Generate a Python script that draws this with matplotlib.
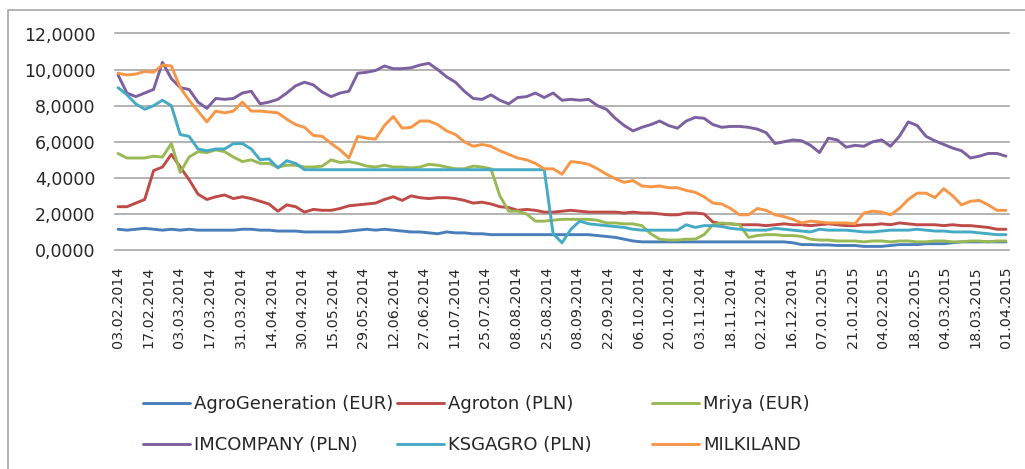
import numpy as np
import matplotlib
matplotlib.use('Agg')
import matplotlib.pyplot as plt
from matplotlib.patches import Rectangle

# ---------------- data ----------------
date_labels = ["03.02.2014", "17.02.2014", "03.03.2014", "17.03.2014", "31.03.2014",
               "14.04.2014", "30.04.2014", "15.05.2014", "29.05.2014", "12.06.2014",
               "27.06.2014", "11.07.2014", "25.07.2014", "08.08.2014", "25.08.2014",
               "08.09.2014", "22.09.2014", "06.10.2014", "20.10.2014", "03.11.2014",
               "18.11.2014", "02.12.2014", "16.12.2014", "07.01.2015", "21.01.2015",
               "04.02.2015", "18.02.2015", "04.03.2015", "18.03.2015", "01.04.2015"]

# trading-day position of each sampled observation (labels every 10 trading days)
obs_day = np.linspace(0, 290, 101)

agrogeneration = [1.15, 1.1, 1.15, 1.2, 1.15, 1.1, 1.15, 1.1, 1.15, 1.1,
                  1.1, 1.1, 1.1, 1.1, 1.15, 1.15, 1.1, 1.1, 1.05, 1.05,
                  1.05, 1.0, 1.0, 1.0, 1.0, 1.0, 1.05, 1.1, 1.15, 1.1,
                  1.15, 1.1, 1.05, 1.0, 1.0, 0.95, 0.9, 1.0, 0.95, 0.95,
                  0.9, 0.9, 0.85, 0.85, 0.85, 0.85, 0.85, 0.85, 0.85, 0.85,
                  0.85, 0.85, 0.85, 0.85, 0.8, 0.75, 0.7, 0.6, 0.5, 0.45,
                  0.45, 0.45, 0.45, 0.45, 0.45, 0.45, 0.45, 0.45, 0.45, 0.45,
                  0.45, 0.45, 0.45, 0.45, 0.45, 0.45, 0.4, 0.3, 0.3, 0.28,
                  0.28, 0.25, 0.25, 0.25, 0.2, 0.2, 0.2, 0.25, 0.3, 0.3,
                  0.3, 0.35, 0.35, 0.35, 0.4, 0.45, 0.45, 0.45, 0.45, 0.45,
                  0.45]

agroton = [2.4, 2.4, 2.6, 2.8, 4.4, 4.6, 5.3, 4.6, 3.9, 3.1,
           2.8, 2.95, 3.05, 2.85, 2.95, 2.85, 2.7, 2.55, 2.15, 2.5,
           2.4, 2.1, 2.25, 2.2, 2.2, 2.3, 2.45, 2.5, 2.55, 2.6,
           2.8, 2.95, 2.75, 3.0, 2.9, 2.85, 2.9, 2.9, 2.85, 2.75,
           2.6, 2.65, 2.55, 2.4, 2.35, 2.2, 2.25, 2.2, 2.1, 2.1,
           2.15, 2.2, 2.15, 2.1, 2.1, 2.1, 2.1, 2.05, 2.1, 2.05,
           2.05, 2.0, 1.95, 1.95, 2.05, 2.05, 2.0, 1.55, 1.45, 1.45,
           1.4, 1.4, 1.4, 1.35, 1.4, 1.45, 1.4, 1.4, 1.35, 1.4,
           1.45, 1.4, 1.35, 1.35, 1.4, 1.4, 1.45, 1.4, 1.5, 1.45,
           1.4, 1.4, 1.4, 1.35, 1.4, 1.35, 1.35, 1.3, 1.25, 1.15,
           1.15]

mriya = [5.35, 5.1, 5.1, 5.1, 5.2, 5.15, 5.9, 4.3, 5.15, 5.45,
         5.4, 5.55, 5.45, 5.15, 4.9, 5.0, 4.8, 4.8, 4.6, 4.7,
         4.7, 4.6, 4.6, 4.65, 5.0, 4.85, 4.9, 4.8, 4.65, 4.6,
         4.7, 4.6, 4.6, 4.55, 4.6, 4.75, 4.7, 4.6, 4.5, 4.5,
         4.65, 4.6, 4.5, 3.0, 2.15, 2.15, 2.0, 1.6, 1.6, 1.65,
         1.7, 1.7, 1.7, 1.7, 1.65, 1.5, 1.5, 1.45, 1.45, 1.35,
         0.9, 0.6, 0.55, 0.55, 0.6, 0.6, 0.85, 1.4, 1.5, 1.45,
         1.4, 0.7, 0.8, 0.85, 0.85, 0.8, 0.8, 0.75, 0.6, 0.55,
         0.55, 0.5, 0.5, 0.5, 0.45, 0.5, 0.5, 0.45, 0.5, 0.5,
         0.45, 0.45, 0.5, 0.5, 0.45, 0.45, 0.5, 0.5, 0.45, 0.5,
         0.5]

imcompany = [9.7, 8.7, 8.5, 8.7, 8.9, 10.4, 9.5, 9.0, 8.9, 8.2,
             7.85, 8.4, 8.35, 8.4, 8.7, 8.8, 8.1, 8.2, 8.35, 8.7,
             9.1, 9.3, 9.15, 8.75, 8.5, 8.7, 8.8, 9.8, 9.85, 9.95,
             10.2, 10.05, 10.05, 10.1, 10.25, 10.35, 10.0, 9.6, 9.3, 8.8,
             8.4, 8.35, 8.6, 8.3, 8.1, 8.45, 8.5, 8.7, 8.45, 8.7,
             8.3, 8.35, 8.3, 8.35, 8.0, 7.8, 7.3, 6.9, 6.6, 6.8,
             6.95, 7.15, 6.9, 6.75, 7.15, 7.35, 7.3, 6.95, 6.8, 6.85,
             6.85, 6.8, 6.7, 6.5, 5.9, 6.0, 6.1, 6.05, 5.8, 5.4,
             6.2, 6.1, 5.7, 5.8, 5.75, 6.0, 6.1, 5.75, 6.3, 7.1,
             6.9, 6.3, 6.05, 5.85, 5.65, 5.5, 5.1, 5.2, 5.35, 5.35,
             5.2]

ksgagro = [9.0, 8.6, 8.1, 7.8, 8.0, 8.3, 8.0, 6.4, 6.3, 5.6,
           5.5, 5.6, 5.6, 5.9, 5.9, 5.6, 5.0, 5.05, 4.55, 4.95,
           4.8, 4.45, 4.45, 4.45, 4.45, 4.45, 4.45, 4.45, 4.45, 4.45,
           4.45, 4.45, 4.45, 4.45, 4.45, 4.45, 4.45, 4.45, 4.45, 4.45,
           4.45, 4.45, 4.45, 4.45, 4.45, 4.45, 4.45, 4.45, 4.45, 0.9,
           0.4, 1.15, 1.6, 1.45, 1.4, 1.35, 1.3, 1.25, 1.15, 1.1,
           1.1, 1.1, 1.1, 1.1, 1.4, 1.25, 1.35, 1.35, 1.3, 1.2,
           1.15, 1.1, 1.1, 1.1, 1.2, 1.15, 1.1, 1.05, 1.0, 1.15,
           1.1, 1.1, 1.1, 1.05, 1.0, 1.0, 1.05, 1.1, 1.1, 1.1,
           1.15, 1.1, 1.05, 1.05, 1.0, 1.0, 1.0, 0.95, 0.9, 0.85,
           0.85]

milkiland = [9.8, 9.7, 9.75, 9.9, 9.85, 10.25, 10.2, 9.0, 8.3, 7.7,
             7.1, 7.7, 7.6, 7.7, 8.2, 7.7, 7.7, 7.65, 7.6, 7.25,
             6.95, 6.8, 6.35, 6.3, 5.9, 5.55, 5.1, 6.3, 6.2, 6.15,
             6.9, 7.4, 6.75, 6.8, 7.15, 7.15, 6.95, 6.6, 6.4, 6.0,
             5.75, 5.85, 5.75, 5.5, 5.3, 5.1, 5.0, 4.8, 4.5, 4.5,
             4.2, 4.9, 4.85, 4.75, 4.5, 4.2, 3.95, 3.75, 3.85, 3.55,
             3.5, 3.55, 3.45, 3.45, 3.3, 3.2, 2.95, 2.6, 2.55, 2.3,
             1.95, 1.95, 2.3, 2.2, 1.95, 1.85, 1.7, 1.5, 1.6, 1.55,
             1.5, 1.5, 1.5, 1.45, 2.05, 2.15, 2.1, 1.95, 2.3, 2.8,
             3.15, 3.15, 2.9, 3.4, 3.0, 2.5, 2.7, 2.75, 2.5, 2.2,
             2.2]

series_names = ["AgroGeneration (EUR)", "Agroton (PLN)", "Mriya (EUR)",
                "IMCOMPANY (PLN)", "KSGAGRO (PLN)", "MILKILAND"]
series_values = [agrogeneration, agroton, mriya, imcompany, ksgagro, milkiland]
y_ticks = [0, 2, 4, 6, 8, 10, 12]

# ---------------- style ----------------
colors = ["#4A7EBB", "#BE4B48", "#98B954", "#7D60A0", "#46AAC5", "#F79646"]
text_color = "#262626"
grid_color = "#A6A6A6"

W, H = 1025, 469
fig = plt.figure(figsize=(W / 100, H / 100), dpi=100)
fig.patch.set_facecolor("white")

# outer chart frame (clipped at right / bottom like the reference)
fig.patches.append(Rectangle((8 / W, -0.1), (1040 - 8) / W, 1.1 - 10 / H,
                             transform=fig.transFigure, fill=False,
                             edgecolor="#A6A6A6", lw=1.2))

ax = fig.add_axes([115 / W, 1 - 250 / H, (1009 - 115) / W, (250 - 33.5) / H])

lines = []
for vals, c, name in zip(series_values, colors, series_names):
    ln, = ax.plot(obs_day, vals, color=c, lw=2.1, label=name,
                  solid_joinstyle="round", solid_capstyle="round")
    lines.append(ln)

ax.set_xlim(-1, 291)
ax.set_ylim(0, 12)
ax.set_yticks(y_ticks)
ax.set_yticklabels([f"{v:.4f}".replace(".", ",") for v in y_ticks])
ax.set_xticks(np.arange(0, 291, 10))
ax.set_xticklabels(date_labels, rotation=90)

ax.yaxis.grid(True, color=grid_color, lw=1.2)
ax.xaxis.grid(False)
ax.set_axisbelow(True)
for gl in ax.get_ygridlines():
    gl.set_clip_on(False)
for s in ax.spines.values():
    s.set_visible(False)

ax.tick_params(axis="both", length=0, labelcolor=text_color)
ax.tick_params(axis="y", pad=14, labelsize=12.5)
ax.tick_params(axis="x", pad=12, labelsize=10.3)

# legend: 3 columns x 2 rows (row-wise order like Excel)
col_x = [143, 397, 652]
for c in range(3):
    fig.legend([lines[c], lines[c + 3]], [series_names[c], series_names[c + 3]],
               loc="upper left", bbox_to_anchor=(col_x[c] / W, 1 - 395 / H),
               frameon=False, borderpad=0, borderaxespad=0,
               handlelength=2.6, handletextpad=0.25, labelspacing=1.27,
               fontsize=13, labelcolor=text_color)

fig.savefig("out.png", dpi=100, facecolor="white")
